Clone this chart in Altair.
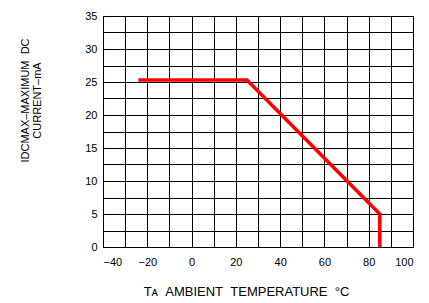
import altair as alt
import pandas as pd

temperature = [-24, 25, 85, 85]
current = [25.3, 25.3, 5, 0]
order = [0, 1, 2, 3]

x_grid = list(range(-40, 101, 10))
y_grid = [i * 2.5 for i in range(15)]

df = pd.DataFrame({"t": temperature, "i": current, "o": order})

FONT = "Liberation Sans"
SP = "\u00a0\u00a0"

chart = alt.Chart(df).mark_line(
    color="#ff0000", strokeWidth=3.5, strokeCap="butt", strokeJoin="miter"
).encode(
    x=alt.X("t:Q", scale=alt.Scale(domain=[-40, 100], nice=False),
            axis=alt.Axis(values=x_grid,
                          labelExpr="datum.value % 20 == 0 ? format(datum.value, 'd') : ''",
                          title=f"Tᴀ{SP}AMBIENT{SP}TEMPERATURE{SP}°C",
                          titleAlign="center", titleAnchor="start",
                          titleX=143, titleY=38, titleBaseline="top",
                          titleFontSize=13, titleFontWeight="normal",
                          labelPadding=9, labelFontSize=11)),
    y=alt.Y("i:Q", scale=alt.Scale(domain=[0, 35], nice=False),
            axis=alt.Axis(values=y_grid,
                          labelExpr="datum.value % 5 == 0 ? format(datum.value, 'd') : ''",
                          title=[f"IDCMAX–MAXIMUM{SP}DC", "CURRENT–mA"],
                          titleAngle=-90, titleAlign="center",
                          titleBaseline="top", titleX=-84, titleY=84,
                          titleFontSize=11, titleFontWeight="normal",
                          titleLineHeight=12,
                          labelPadding=6, labelFontSize=11)),
    order="o:O",
).properties(
    width=310, height=231,
    autosize=alt.AutoSizeParams(type="none"),
    padding={"left": 95, "top": 8, "right": 8, "bottom": 56},
).configure_axis(
    grid=True, gridColor="black", gridOpacity=1, gridWidth=1,
    domain=True, domainColor="black", domainWidth=1,
    ticks=False,
    labelFont=FONT, titleFont=FONT, labelColor="black", titleColor="black",
).configure_view(stroke="black", strokeWidth=1)

chart.save("out.html", embed_options={"renderer": "svg", "actions": False})
